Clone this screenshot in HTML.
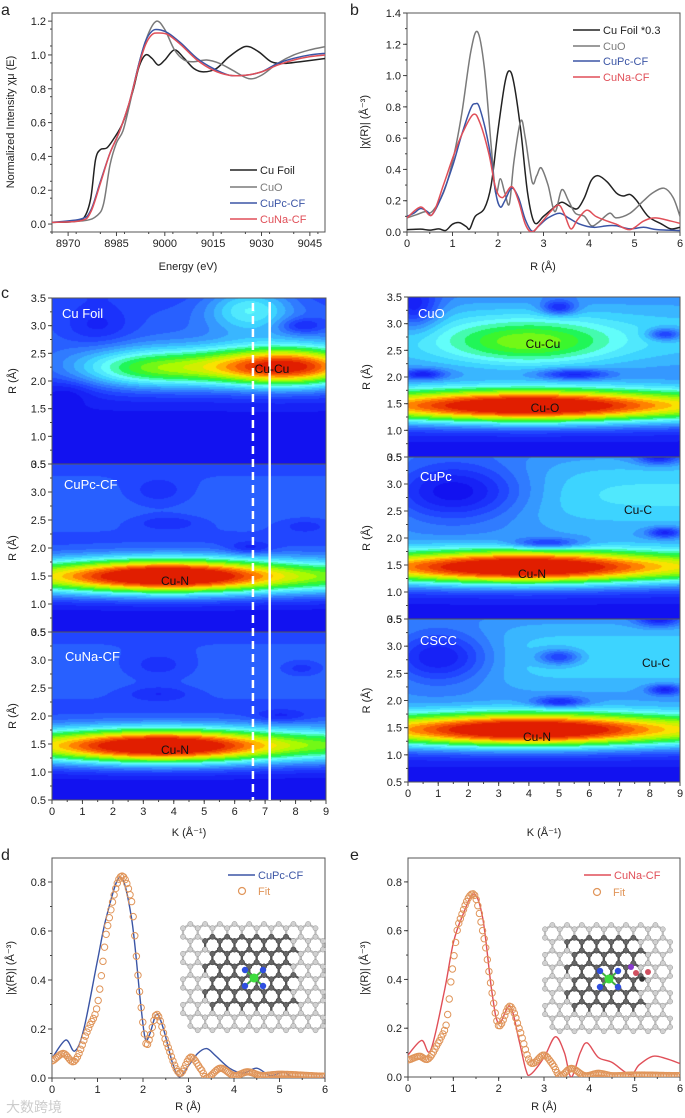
<!DOCTYPE html>
<html><head><meta charset="utf-8">
<style>
html,body{margin:0;padding:0;background:#fff;}
#wrap{position:relative;width:685px;height:1118px;overflow:hidden;font-family:"Liberation Sans","Noto Sans CJK SC",sans-serif;}
canvas{position:absolute;}
svg{position:absolute;left:0;top:0;}
</style></head>
<body>
<div id="wrap">
<canvas id="h1"></canvas>
<canvas id="h2"></canvas>
<canvas id="h3"></canvas>
<canvas id="h4"></canvas>
<canvas id="h5"></canvas>
<canvas id="h6"></canvas>
<svg id="main" width="685" height="1118" xmlns="http://www.w3.org/2000/svg"></svg>
</div>
<script>
// ---------- Panel a data ----------
const aCuFoil=[[8965,0.01],[8972,0.015],[8975,0.04],[8977,0.15],[8978.5,0.38],[8980,0.44],[8982,0.45],[8984,0.5],[8987,0.6],[8990,0.78],[8992,0.93],[8994,1.0],[8996,0.98],[8998,0.94],[9000,0.97],[9003,1.03],[9006,0.98],[9009,0.92],[9012,0.9],[9016,0.92],[9020,0.99],[9025,1.05],[9029,1.02],[9033,0.96],[9037,0.95],[9042,0.96],[9050,0.98]];
const aCuO=[[8965,0.01],[8975,0.02],[8979,0.05],[8981,0.12],[8983,0.35],[8985,0.48],[8987,0.55],[8989,0.7],[8992,0.95],[8995,1.13],[8997.5,1.2],[9000,1.15],[9003,1.03],[9006,0.97],[9009,0.96],[9013,0.97],[9017,0.95],[9021,0.91],[9026,0.86],[9030,0.88],[9035,0.95],[9040,1.0],[9045,1.03],[9050,1.05]];
const aCuPc=[[8965,0.01],[8974,0.03],[8977,0.08],[8980,0.25],[8983,0.42],[8986,0.55],[8989,0.72],[8992,0.95],[8994,1.08],[8996,1.14],[8998,1.15],[9001,1.13],[9005,1.07],[9010,0.98],[9015,0.92],[9020,0.88],[9025,0.88],[9030,0.9],[9035,0.95],[9040,0.98],[9045,1.0],[9050,1.01]];
const aCuNa=[[8965,0.01],[8974,0.02],[8977,0.07],[8980,0.24],[8983,0.42],[8986,0.55],[8989,0.72],[8992,0.94],[8994,1.06],[8996,1.12],[8998,1.13],[9001,1.12],[9005,1.06],[9010,0.97],[9015,0.91],[9020,0.88],[9025,0.88],[9030,0.9],[9035,0.94],[9040,0.97],[9045,0.99],[9050,1.0]];
const aXTicks=[8970,8985,9000,9015,9030,9045];
const aYTicks=[0,0.2,0.4,0.6,0.8,1.0,1.2];
// ---------- Panel b data ----------
const bCuFoil=[[0,0.015],[0.3,0.018],[0.5,0.012],[0.7,0.02],[0.85,0.01],[1.0,0.05],[1.15,0.06],[1.3,0.035],[1.38,0.02],[1.5,0.1],[1.7,0.15],[1.85,0.3],[2.0,0.65],[2.15,0.95],[2.25,1.03],[2.35,0.95],[2.5,0.65],[2.65,0.25],[2.8,0.06],[3.0,0.1],[3.2,0.15],[3.4,0.19],[3.6,0.16],[3.75,0.15],[3.9,0.22],[4.05,0.33],[4.2,0.36],[4.4,0.32],[4.6,0.25],[4.75,0.23],[4.9,0.24],[5.05,0.2],[5.3,0.1],[5.6,0.05],[5.8,0.02],[6,0.03]];
const bCuO=[[0,0.09],[0.2,0.11],[0.4,0.13],[0.55,0.13],[0.8,0.25],[1.0,0.45],[1.2,0.75],[1.4,1.15],[1.55,1.28],[1.7,1.05],[1.85,0.55],[1.95,0.25],[2.05,0.34],[2.15,0.25],[2.25,0.18],[2.35,0.45],[2.5,0.71],[2.6,0.6],[2.75,0.32],[2.85,0.36],[2.95,0.41],[3.1,0.3],[3.25,0.13],[3.4,0.27],[3.55,0.2],[3.7,0.12],[3.9,0.1],[4.05,0.04],[4.2,0.06],[4.45,0.12],[4.6,0.09],[4.9,0.12],[5.2,0.2],[5.4,0.25],[5.65,0.28],[5.85,0.22],[6,0.1]];
const bCuPc=[[0,0.1],[0.15,0.12],[0.3,0.15],[0.45,0.13],[0.55,0.11],[0.75,0.22],[1.0,0.42],[1.2,0.62],[1.4,0.79],[1.5,0.82],[1.6,0.79],[1.8,0.55],[1.95,0.25],[2.05,0.16],[2.15,0.2],[2.3,0.28],[2.45,0.22],[2.6,0.08],[2.75,0.005],[2.9,0.04],[3.1,0.09],[3.35,0.12],[3.55,0.09],[3.8,0.05],[4.1,0.03],[4.4,0.04],[4.6,0.04],[4.9,0.02],[5.2,0.03],[5.5,0.015],[6,0.01]];
const bCuNa=[[0,0.09],[0.3,0.16],[0.55,0.11],[0.8,0.3],[1.0,0.47],[1.2,0.62],[1.45,0.75],[1.6,0.7],[1.8,0.5],[1.95,0.28],[2.1,0.22],[2.3,0.29],[2.45,0.2],[2.6,0.05],[2.75,0.0],[2.95,0.06],[3.3,0.17],[3.45,0.12],[3.6,0.02],[3.75,0.08],[3.95,0.14],[4.15,0.1],[4.4,0.07],[4.6,0.05],[4.9,0.015],[5.2,0.07],[5.45,0.09],[5.8,0.07],[6,0.055]];
const bXTicks=[0,1,2,3,4,5,6];
const bYTicks=[0,0.2,0.4,0.6,0.8,1.0,1.2,1.4];
// ---------- Panel d / e data ----------
const dLine=[[0,0.08],[0.3,0.155],[0.5,0.11],[0.7,0.2],[1.0,0.48],[1.2,0.66],[1.5,0.82],[1.75,0.65],[1.95,0.3],[2.05,0.16],[2.15,0.18],[2.3,0.26],[2.45,0.2],[2.65,0.06],[2.8,0.005],[3.0,0.05],[3.2,0.1],[3.4,0.12],[3.6,0.09],[3.9,0.04],[4.2,0.02],[4.5,0.04],[4.8,0.01],[5.1,0.025],[5.3,0.005],[6,0.002]];
const dFit=[[0,0.07],[0.25,0.1],[0.5,0.07],[0.8,0.2],[1.0,0.3],[1.2,0.6],[1.5,0.82],[1.75,0.72],[1.9,0.4],[2.05,0.16],[2.12,0.15],[2.3,0.26],[2.5,0.15],[2.8,0.02],[3.05,0.085],[3.3,0.03],[3.4,0.0],[3.7,0.04],[4.0,0.01],[4.3,0.025],[4.6,0.01],[5,0.015],[6,0.007]];
const eLine=[[0,0.09],[0.3,0.15],[0.5,0.11],[0.8,0.35],[1.0,0.55],[1.2,0.66],[1.45,0.75],[1.65,0.65],[1.85,0.35],[2.0,0.22],[2.25,0.29],[2.45,0.15],[2.6,0.03],[2.7,0.01],[3.0,0.08],[3.25,0.165],[3.45,0.1],[3.6,0.0],[3.8,0.1],[3.95,0.14],[4.2,0.08],[4.5,0.06],[4.9,0.01],[5.1,0.05],[5.4,0.085],[5.7,0.075],[6,0.055]];
const eFit=[[0,0.07],[0.25,0.085],[0.45,0.075],[0.7,0.15],[0.85,0.22],[0.95,0.4],[1.1,0.62],[1.45,0.75],[1.7,0.55],[1.85,0.35],[2.0,0.21],[2.25,0.29],[2.45,0.2],[2.7,0.06],[3.0,0.09],[3.2,0.05],[3.35,0.005],[3.6,0.035],[3.9,0.005],[4.2,0.015],[4.5,0.005],[5,0.008],[6,0.005]];
const deYTicks=[0,0.2,0.4,0.6,0.8];
// ---------- Heatmap blobs: [k, R, amplitude, sigmaK, sigmaR] ----------
const hCuFoil=[[4.5,2.9,0.2,100,0.8],[7.7,2.25,0.9,2.0,0.26],[3.2,2.22,0.45,1.8,0.26],[6.5,3.3,0.28,1.0,0.3],[1.5,3.0,-0.12,0.8,0.25],[8.2,3.0,-0.15,0.5,0.1],[0.5,1.8,-0.08,0.6,0.15]];
const hCuPcCF=[[4.5,2.8,0.22,100,0.8],[3.8,1.5,0.6,2.4,0.22],[4.5,1.48,0.55,100,0.24],[3.5,3.0,-0.1,0.8,0.2],[3.8,2.45,-0.1,0.8,0.1],[6.5,2.0,-0.12,0.5,0.08],[8.3,2.4,-0.08,0.6,0.1]];
const hCuNaCF=[[4.5,2.8,0.22,100,0.8],[3.6,1.45,0.58,2.4,0.22],[4.5,1.47,0.55,100,0.24],[3.5,2.9,-0.1,0.9,0.2],[3.5,2.4,-0.1,0.8,0.1],[7.5,2.0,-0.1,0.6,0.08],[8.2,2.85,-0.1,0.5,0.1]];
const hCuO=[[4.5,2.8,0.38,100,0.9],[4,1.45,0.5,3.0,0.22],[4.5,1.45,0.55,100,0.24],[4,2.65,0.3,2,0.3],[5,3.3,-0.25,0.4,0.1],[0.5,2.05,-0.25,0.5,0.07],[5.5,2.05,-0.25,0.8,0.07],[8.5,2.8,-0.25,0.4,0.08],[0.2,3.3,-0.25,0.6,0.3]];
const hCuPc=[[4.5,2.8,0.42,100,0.9],[3.8,1.45,0.5,2.8,0.22],[4.5,1.45,0.55,100,0.24],[1.5,2.85,-0.4,1.8,0.4],[4.6,1.9,-0.25,0.8,0.07],[8.5,2.1,-0.25,0.4,0.07],[8.3,3.5,-0.25,0.5,0.1]];
const hCSCC=[[4.5,2.8,0.4,100,0.9],[4,1.45,0.5,2.8,0.22],[4.5,1.45,0.55,100,0.24],[1.0,2.8,-0.35,1.3,0.35],[5,2.8,-0.25,0.5,0.1],[5,1.97,-0.25,0.6,0.07],[8.5,2.2,-0.25,0.4,0.07],[8.3,3.5,-0.25,0.5,0.1]];
const kTicks=[0,1,2,3,4,5,6,7,8,9];
const rTicks=[0.5,1.0,1.5,2.0,2.5,3.0,3.5];

const NS="http://www.w3.org/2000/svg";
const svg=document.getElementById('main');
function el(tag,attrs,parent,txt){const e=document.createElementNS(NS,tag);for(const k in attrs)e.setAttribute(k,attrs[k]);if(txt!==undefined)e.textContent=txt;(parent||svg).appendChild(e);return e;}
function lin(d0,d1,p0,p1){return v=>p0+(v-d0)*(p1-p0)/(d1-d0);}
function spline(pts,sx,sy){let d='M'+sx(pts[0][0]).toFixed(2)+','+sy(pts[0][1]).toFixed(2);
 for(let i=0;i<pts.length-1;i++){const p0=pts[Math.max(0,i-1)],p1=pts[i],p2=pts[i+1],p3=pts[Math.min(pts.length-1,i+2)];
 const x1=sx(p1[0])+(sx(p2[0])-sx(p0[0]))/6,y1=sy(p1[1])+(sy(p2[1])-sy(p0[1]))/6;
 const x2=sx(p2[0])-(sx(p3[0])-sx(p1[0]))/6,y2=sy(p2[1])-(sy(p3[1])-sy(p1[1]))/6;
 d+='C'+x1.toFixed(2)+','+y1.toFixed(2)+' '+x2.toFixed(2)+','+y2.toFixed(2)+' '+sx(p2[0]).toFixed(2)+','+sy(p2[1]).toFixed(2);}
 return d;}
function evalSpline(pts,x){for(let i=0;i<pts.length-1;i++){if(x>=pts[i][0]&&x<=pts[i+1][0]){const p0=pts[Math.max(0,i-1)],p1=pts[i],p2=pts[i+1],p3=pts[Math.min(pts.length-1,i+2)];const t=(x-p1[0])/(p2[0]-p1[0]);const t2=t*t,t3=t2*t;
 return 0.5*((2*p1[1])+(-p0[1]+p2[1])*t+(2*p0[1]-5*p1[1]+4*p2[1]-p3[1])*t2+(-p0[1]+3*p1[1]-3*p2[1]+p3[1])*t3);}}return pts[pts.length-1][1];}
const FS=11;
function axes(o){
 const g=el('g',{},svg);
 const sx=lin(o.xd[0],o.xd[1],o.x0,o.x1),sy=lin(o.yd[0],o.yd[1],o.y1,o.y0);
 el('rect',{x:o.x0,y:o.y0,width:o.x1-o.x0,height:o.y1-o.y0,fill:'none',stroke:'#555','stroke-width':1},g);
 if(o.xticks){o.xticks.forEach(v=>{const x=sx(v);el('line',{x1:x,y1:o.y1,x2:x,y2:o.y1+4,stroke:'#444'},g);
  el('text',{x:x,y:o.y1+15,'font-size':FS,'text-anchor':'middle',fill:'#222'},g,o.fmtX?o.fmtX(v):v);});
  if(o.xminor)for(let v=o.xd[0];v<=o.xd[1]+1e-9;v+=o.xminor){el('line',{x1:sx(v),y1:o.y1,x2:sx(v),y2:o.y1+2,stroke:'#444'},g);}}
 if(o.yticks){o.yticks.forEach(v=>{const y=sy(v);el('line',{x1:o.x0-4,y1:y,x2:o.x0,y2:y,stroke:'#444'},g);
  el('text',{x:o.x0-6,y:y+4,'font-size':FS,'text-anchor':'end',fill:'#222'},g,o.fmtY?o.fmtY(v):v.toFixed(1));});
  if(o.yminor)for(let v=o.yd[0];v<=o.yd[1]+1e-9;v+=o.yminor){el('line',{x1:o.x0-2,y1:sy(v),x2:o.x0,y2:sy(v),stroke:'#444'},g);}}
 return {sx,sy};}
function series(pts,sx,sy,color,name,w){const p=el('path',{d:spline(pts,sx,sy),fill:'none',stroke:color,'stroke-width':w||1.5});
 return p;}
function clip(id,x,y,w,h){const c=el('clipPath',{id:id});el('rect',{x:x,y:y,width:w,height:h},c);}
function text(x,y,s,opts,name){const t=el('text',Object.assign({x:x,y:y,'font-size':FS,fill:'#222'},opts||{}),svg,s);return t;}
function legendLine(x,y,color,label,name){const g=el('g',{});
 el('line',{x1:x,y1:y,x2:x+27,y2:y,stroke:color,'stroke-width':1.6},g);el('text',{x:x+30,y:y+4,'font-size':FS,fill:color},g,label);}
const C_BLACK='#222',C_GREY='#7a7a7a',C_BLUE='#3b55a5',C_RED='#e04f58',C_OR='#e0955a';

// ===== Panel a =====
clip('ca',52,13,273,219);
let A=axes({name:'panel-a',x0:52,x1:325,y0:13,y1:232,xd:[8965,9049.7],yd:[-0.047,1.248],xticks:aXTicks,yticks:aYTicks,xminor:7.5,yminor:0.1});
const ga=el('g',{'clip-path':'url(#ca)'});
[[aCuFoil,C_BLACK,'line-cu-foil'],[aCuO,C_GREY,'line-cuo'],[aCuPc,C_BLUE,'line-cupc-cf'],[aCuNa,C_RED,'line-cuna-cf']].forEach(s=>ga.appendChild(series(s[0],A.sx,A.sy,s[1],s[2])));
text(188,270,'Energy (eV)',{'text-anchor':'middle'},'x-axis-title-a');
text(0,0,'Normalized Intensity χμ (E)',{'text-anchor':'middle',transform:'translate(14,122) rotate(-90)'},'y-axis-title-a');
legendLine(230,170,C_BLACK,'Cu Foil','legend-cu-foil-a');legendLine(230,187,C_GREY,'CuO','legend-cuo-a');
legendLine(230,203,C_BLUE,'CuPc-CF','legend-cupc-cf-a');legendLine(230,219,C_RED,'CuNa-CF','legend-cuna-cf-a');
text(1,15,'a',{'font-size':16},'panel-label-a');

// ===== Panel b =====
clip('cb',407,13,273,219);
let B=axes({name:'panel-b',x0:407,x1:680,y0:13,y1:232,xd:[0,6],yd:[0,1.4],xticks:bXTicks,yticks:bYTicks,xminor:0.5,yminor:0.1});
const gb=el('g',{'clip-path':'url(#cb)'});
[[bCuFoil,C_BLACK,'line-cu-foil-b'],[bCuO,C_GREY,'line-cuo-b'],[bCuPc,C_BLUE,'line-cupc-cf-b'],[bCuNa,C_RED,'line-cuna-cf-b']].forEach(s=>gb.appendChild(series(s[0],B.sx,B.sy,s[1],s[2])));
text(543,270,'R (Å)',{'text-anchor':'middle'},'x-axis-title-b');
text(0,0,'|χ(R)| (Å⁻³)',{'text-anchor':'middle',transform:'translate(368,122) rotate(-90)'},'y-axis-title-b');
legendLine(573,30,C_BLACK,'Cu Foil *0.3','legend-cu-foil-b');legendLine(573,46,C_GREY,'CuO','legend-cuo-b');
legendLine(573,61,C_BLUE,'CuPc-CF','legend-cupc-cf-b');legendLine(573,77,C_RED,'CuNa-CF','legend-cuna-cf-b');
text(350,15,'b',{'font-size':16},'panel-label-b');

// ===== Panel c heatmaps =====
const stops=[[0,[18,18,240]],[0.12,[30,60,255]],[0.24,[50,130,255]],[0.36,[60,210,255]],[0.46,[100,255,250]],[0.56,[20,245,60]],[0.68,[170,250,0]],[0.78,[255,225,0]],[0.88,[255,110,0]],[1.0,[225,30,0]]];
function cmap(v){v=Math.max(0,Math.min(1,v));for(let i=0;i<stops.length-1;i++){if(v<=stops[i+1][0]){const t=(v-stops[i][0])/(stops[i+1][0]-stops[i][0]);return stops[i][1].map((c,j)=>c+(stops[i+1][1][j]-c)*t);}}return stops[stops.length-1][1];}
function heat(id,blobs,x0,y0,w,h){const cv=document.getElementById(id);cv.width=w;cv.height=h;cv.style.left=x0+'px';cv.style.top=y0+'px';
 const ctx=cv.getContext('2d');const img=ctx.createImageData(w,h);
 for(let py=0;py<h;py++){const R=3.5-3*(py+0.5)/h;for(let px=0;px<w;px++){const K=9*(px+0.5)/w;let v=0;
  blobs.forEach(b=>{const dk=(K-b[0])/b[3],dr=(R-b[1])/b[4];v+=b[2]*Math.exp(-0.5*(dk*dk+dr*dr));});
  v=Math.floor(Math.max(0,v)*22)/22;const c=cmap(v);const i=(py*w+px)*4;img.data[i]=c[0];img.data[i+1]=c[1];img.data[i+2]=c[2];img.data[i+3]=255;}}
 ctx.putImageData(img,0,0);}
const L=[[298,464],[464,632],[632,800]],Rr=[[297,457],[457,619],[619,782]];
heat('h1',hCuFoil,52,L[0][0],274,L[0][1]-L[0][0]);heat('h2',hCuPcCF,52,L[1][0],274,L[1][1]-L[1][0]);heat('h3',hCuNaCF,52,L[2][0],274,L[2][1]-L[2][0]);
heat('h4',hCuO,408,Rr[0][0],272,Rr[0][1]-Rr[0][0]);heat('h5',hCuPc,408,Rr[1][0],272,Rr[1][1]-Rr[1][0]);heat('h6',hCSCC,408,Rr[2][0],272,Rr[2][1]-Rr[2][0]);
function hAxes(name,x0,x1,y0,y1,last){return axes({name:name,x0:x0,x1:x1,y0:y0,y1:y1,xd:[0,9],yd:[0.5,3.5],xticks:last?kTicks:null,yticks:rTicks,xminor:last?0.5:null,yminor:0.25});}
L.forEach((p,i)=>{hAxes('heatmap-left-'+i,52,326,p[0],p[1],i==2);text(0,0,'R (Å)',{'text-anchor':'middle',transform:'translate(16,'+((p[0]+p[1])/2)+') rotate(-90)'},'y-axis-title-c-left-'+i);});
Rr.forEach((p,i)=>{hAxes('heatmap-right-'+i,408,680,p[0],p[1],i==2);text(0,0,'R (Å)',{'text-anchor':'middle',transform:'translate(370,'+((p[0]+p[1])/2)+') rotate(-90)'},'y-axis-title-c-right-'+i);});
text(189,836,'K (Å⁻¹)',{'text-anchor':'middle'},'x-axis-title-c-left');
text(544,836,'K (Å⁻¹)',{'text-anchor':'middle'},'x-axis-title-c-right');
const kx=lin(0,9,52,326);
const dl=el('line',{x1:kx(6.6),y1:303,x2:kx(6.6),y2:800,stroke:'#fff','stroke-width':2.5,'stroke-dasharray':'8,5'});
const sl=el('line',{x1:kx(7.15),y1:302,x2:kx(7.15),y2:800,stroke:'#fff','stroke-width':2.5});
const W={fill:'#fff','font-size':13},Bk={fill:'#111','font-size':12,'text-anchor':'middle'};
text(62,318,'Cu Foil',W,'label-cu-foil');text(272,373,'Cu-Cu',Bk,'label-cu-cu-foil');
text(64,489,'CuPc-CF',W,'label-cupc-cf');text(175,585,'Cu-N',Bk,'label-cu-n-cupc-cf');
text(65,661,'CuNa-CF',W,'label-cuna-cf');text(175,754,'Cu-N',Bk,'label-cu-n-cuna-cf');
text(418,318,'CuO',W,'label-cuo');text(543,348,'Cu-Cu',Bk,'label-cu-cu-cuo');text(545,412,'Cu-O',Bk,'label-cu-o');
text(420,481,'CuPc',W,'label-cupc');text(638,514,'Cu-C',Bk,'label-cu-c-cupc');text(532,578,'Cu-N',Bk,'label-cu-n-cupc');
text(420,645,'CSCC',W,'label-cscc');text(656,667,'Cu-C',Bk,'label-cu-c-cscc');text(537,741,'Cu-N',Bk,'label-cu-n-cscc');
text(1,298,'c',{'font-size':16},'panel-label-c');

// ===== molecule inset =====
function molecule(x0,y0,w,h,na,name){const g=el('g',{});
 const cx=x0+w/2,cy=y0+h/2;const a=8.5,hs=a*Math.sqrt(3)/2;
 // pointy-top hexagons (armchair columns)
 const dxh=2*hs,dyh=1.5*a;const rows=Math.floor((h-a)/dyh)+1,cols=Math.floor((w-hs)/dxh)+1;
 for(let r=0;r<rows;r++)for(let c=0;c<cols;c++){const hx=x0+hs+c*dxh+(r%2?hs:0),hy=y0+a+r*dyh;if(hx+hs>x0+w+1)continue;
  const inner=Math.abs(hx-cx)<w*0.3&&Math.abs(hy-cy)<h*0.4;
  let d='';const vs=[];for(let k=0;k<6;k++){const an=Math.PI/3*k+Math.PI/6;vs.push([hx+a*Math.cos(an),hy+a*Math.sin(an)]);}
  vs.forEach((v,k)=>{d+=(k?'L':'M')+v[0].toFixed(1)+','+v[1].toFixed(1);});d+='Z';
  el('path',{d:d,fill:'none',stroke:inner?'#555':'#bdbdbd','stroke-width':2.2},g);
  vs.forEach(v=>el('circle',{cx:v[0],cy:v[1],r:2.6,fill:inner?'#666':'#d0d0d0',stroke:inner?'#444':'#999','stroke-width':0.5},g));}
 [[-9,-8],[9,-8],[-9,8],[9,8]].forEach(p=>{el('line',{x1:cx,y1:cy,x2:cx+p[0],y2:cy+p[1],stroke:'#4a4','stroke-width':2},g);el('circle',{cx:cx+p[0],cy:cy+p[1],r:3.2,fill:'#2f4fe0'},g);});
 el('circle',{cx:cx,cy:cy,r:4.5,fill:'#3ddc3d'},g);
 if(na){el('circle',{cx:cx+22,cy:cy-12,r:3,fill:'#8a3ad0'},g);el('circle',{cx:cx+27,cy:cy-6,r:3,fill:'#d05060'},g);el('circle',{cx:cx+39,cy:cy-7,r:3,fill:'#d05060'},g);el('circle',{cx:cx+33,cy:cy,r:2.8,fill:'#333'},g);}
}

// ===== Panel d =====
clip('cd',52,858,273,220);
let D=axes({name:'panel-d',x0:52,x1:325,y0:858,y1:1078,xd:[0,6],yd:[0,0.898],xticks:bXTicks,yticks:deYTicks,xminor:0.5,yminor:0.1});
molecule(183,924,142,108,false,'inset-structure-cupc-cf');
const gd=el('g',{'clip-path':'url(#cd)'});
gd.appendChild(series(dLine,D.sx,D.sy,C_BLUE,'line-cupc-cf-d',1.4));
for(let x=0;x<=6;x+=0.035){const c=el('circle',{cx:D.sx(x),cy:D.sy(evalSpline(dFit,x)),r:3.2,fill:'none',stroke:C_OR,'stroke-width':1},gd);}
text(188,1110,'R (Å)',{'text-anchor':'middle'},'x-axis-title-d');
text(0,0,'|χ(R)| (Å⁻³)',{'text-anchor':'middle',transform:'translate(14,968) rotate(-90)'},'y-axis-title-d');
legendLine(228,875,C_BLUE,'CuPc-CF','legend-cupc-cf-d');
el('circle',{cx:242,cy:891,r:3.5,fill:'none',stroke:C_OR,'stroke-width':1.2});text(258,895,'Fit',{fill:C_OR},'legend-fit-d');
text(1,860,'d',{'font-size':16},'panel-label-d');
text(6,1112,'大数跨境',{fill:'#ccc','font-size':14},'watermark');

// ===== Panel e =====
clip('ce',408,858,272,219);
let E=axes({name:'panel-e',x0:408,x1:680,y0:858,y1:1077,xd:[0,6],yd:[0,0.898],xticks:bXTicks,yticks:deYTicks,xminor:0.5,yminor:0.1});
molecule(545,925,128,108,true,'inset-structure-cuna-cf');
const ge=el('g',{'clip-path':'url(#ce)'});
ge.appendChild(series(eLine,E.sx,E.sy,C_RED,'line-cuna-cf-e',1.4));
for(let x=0;x<=6;x+=0.035){const c=el('circle',{cx:E.sx(x),cy:E.sy(evalSpline(eFit,x)),r:3.2,fill:'none',stroke:C_OR,'stroke-width':1},ge);}
text(544,1110,'R (Å)',{'text-anchor':'middle'},'x-axis-title-e');
text(0,0,'|χ(R)| (Å⁻³)',{'text-anchor':'middle',transform:'translate(368,968) rotate(-90)'},'y-axis-title-e');
legendLine(584,875,C_RED,'CuNa-CF','legend-cuna-cf-e');
el('circle',{cx:597,cy:892,r:3.5,fill:'none',stroke:C_OR,'stroke-width':1.2});text(613,896,'Fit',{fill:C_OR},'legend-fit-e');
text(350,860,'e',{'font-size':16},'panel-label-e');
</script>
</body></html>
